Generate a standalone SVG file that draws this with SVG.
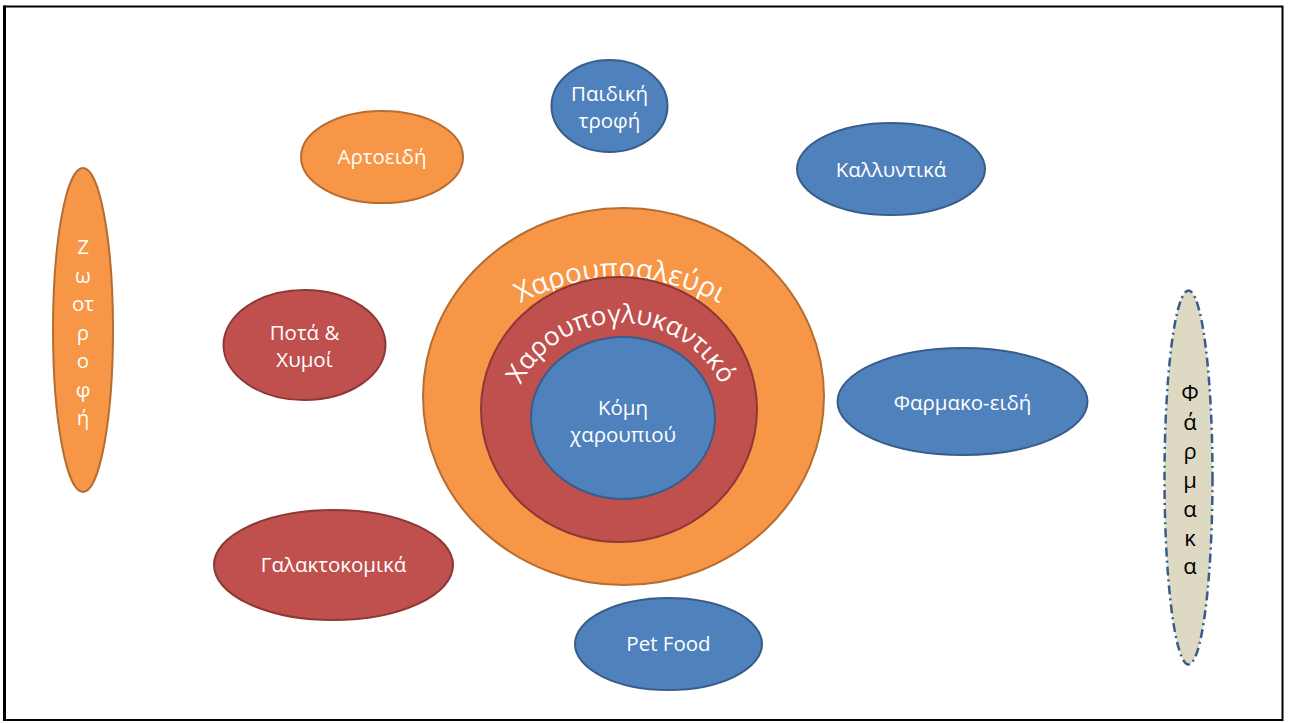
<svg xmlns="http://www.w3.org/2000/svg" width="1289" height="723" viewBox="0 0 1289 723">
<style>
.o{fill:#f79646;stroke:#b66d31;stroke-width:2}
.r{fill:#c0504d;stroke:#8c3836;stroke-width:2}
.b{fill:#4f81bd;stroke:#385d8a;stroke-width:2}
.t{font-family:"Open Sans","Liberation Sans",sans-serif;font-size:20.5px;fill:#fff;text-anchor:middle}
.arc{font-family:"Open Sans","Liberation Sans",sans-serif;font-size:28px;fill:#fff}
.arc2{font-family:"Open Sans","Liberation Sans",sans-serif;font-size:26px;fill:#fff}
.k{font-family:"Open Sans","Liberation Sans",sans-serif;font-size:22px;fill:#000;text-anchor:middle}
</style>
<defs>
<path id="arc1" d="M 412 486 A 208 208 0 0 1 828 486"/>
<path id="arc2" d="M 509 435 A 112 112 0 0 1 733 435"/>
</defs>
<rect x="0" y="0" width="1289" height="723" fill="#fff"/>
<rect x="5" y="6.5" width="1277.5" height="713.5" fill="none" stroke="#000" stroke-width="2"/>
<line x1="4.5" y1="5.5" x2="4.5" y2="721" stroke="#000" stroke-width="3"/>

<g id="core">
<ellipse class="o" cx="623.5" cy="396.5" rx="200.5" ry="188.5"/>
<text class="arc"><textPath href="#arc1" startOffset="50%" text-anchor="middle">Χαρουποαλεύρι</textPath></text>
<ellipse class="r" cx="619" cy="409.5" rx="138" ry="132.5"/>
<text class="arc2"><textPath href="#arc2" startOffset="50%" text-anchor="middle">Χαρουπογλυκαντικό</textPath></text>
<ellipse class="b" cx="623" cy="418" rx="92" ry="81"/>
<text class="t" x="623" y="415">Κόμη</text>
<text class="t" x="623" y="442">χαρουπιού</text>
</g>

<g id="paidiki">
<ellipse class="b" cx="609.5" cy="106" rx="58" ry="46"/>
<text class="t" x="609.5" y="101">Παιδική</text>
<text class="t" x="609.5" y="128">τροφή</text>
</g>

<g id="artoeidi">
<ellipse class="o" cx="382" cy="157" rx="81" ry="46"/>
<text class="t" x="382" y="164">Αρτοειδή</text>
</g>

<g id="kallyntika">
<ellipse class="b" cx="891" cy="169" rx="94" ry="46"/>
<text class="t" x="891" y="177">Καλλυντικά</text>
</g>

<g id="zootrofi">
<ellipse class="o" cx="83" cy="330" rx="30" ry="162"/>
<text class="t" x="83" y="254">Ζ</text>
<text class="t" x="83" y="283">ω</text>
<text class="t" x="83" y="311">οτ</text>
<text class="t" x="83" y="340">ρ</text>
<text class="t" x="83" y="368">ο</text>
<text class="t" x="83" y="397">φ</text>
<text class="t" x="83" y="425">ή</text>
</g>

<g id="pota">
<ellipse class="r" cx="304.5" cy="345" rx="81" ry="55"/>
<text class="t" x="304.5" y="340">Ποτά &amp;</text>
<text class="t" x="304.5" y="367">Χυμοί</text>
</g>

<g id="farmakoeidi">
<ellipse class="b" cx="962.5" cy="401.5" rx="125" ry="53.5"/>
<text class="t" x="962.5" y="410">Φαρμακο-ειδή</text>
</g>

<g id="farmaka">
<ellipse cx="1188.5" cy="477.5" rx="24" ry="187" fill="#ddd9c3" stroke="#385d8a" stroke-width="2.5" stroke-dasharray="9,4,2,4"/>
<text class="k" x="1190" y="401">Φ</text>
<text class="k" x="1190" y="430">ά</text>
<text class="k" x="1190" y="459">ρ</text>
<text class="k" x="1190" y="488">μ</text>
<text class="k" x="1190" y="517">α</text>
<text class="k" x="1190" y="546">κ</text>
<text class="k" x="1190" y="574">α</text>
</g>

<g id="galaktokomika">
<ellipse class="r" cx="333.5" cy="565" rx="119.5" ry="55"/>
<text class="t" x="333.5" y="572">Γαλακτοκομικά</text>
</g>

<g id="petfood">
<ellipse class="b" cx="668.5" cy="644" rx="93.5" ry="46"/>
<text class="t" x="668.5" y="651">Pet Food</text>
</g>

<g id="connectors"></g>
</svg>
